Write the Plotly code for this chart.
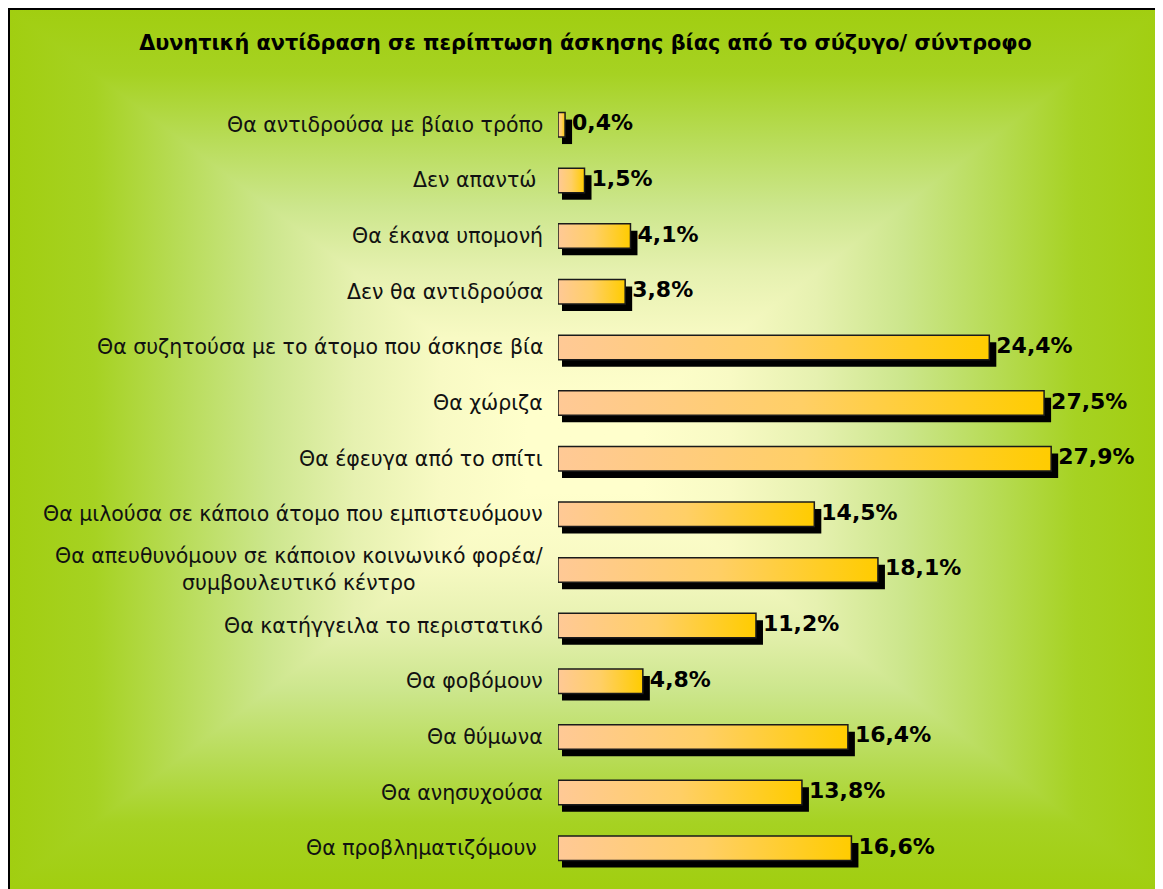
import plotly.graph_objects as go
import base64

# ---------------- data ----------------
categories = [
    "Θα αντιδρούσα με βίαιο τρόπο",
    "Δεν απαντώ\u00a0",
    "Θα έκανα υπομονή",
    "Δεν θα αντιδρούσα",
    "Θα συζητούσα με το άτομο που άσκησε βία",
    "Θα χώριζα",
    "Θα έφευγα από το σπίτι",
    "Θα μιλούσα σε κάποιο άτομο που εμπιστευόμουν",
    "Θα απευθυνόμουν σε κάποιον κοινωνικό φορέα/<br>συμβουλευτικό κέντρο",
    "Θα κατήγγειλα το περιστατικό",
    "Θα φοβόμουν",
    "Θα θύμωνα",
    "Θα ανησυχούσα",
    "Θα προβληματιζόμουν\u00a0",
]
values = [0.4, 1.5, 4.1, 3.8, 24.4, 27.5, 27.9, 14.5, 18.1, 11.2, 4.8, 16.4, 13.8, 16.6]
title_text = "Δυνητική αντίδραση σε περίπτωση άσκησης βίας από το σύζυγο/ σύντροφο"

# ---------------- geometry ----------------
W, H = 1155, 881
ML, MR, MT, MB = 550, 4, 89, 13
XMAX = 34.0
pw = W - ML - MR
ph = H - MT - MB
px_per_x = pw / XMAX
px_per_y = ph / len(categories)

bar_h = 0.44
sh_dx0 = 4 / px_per_x
sh_dx1 = 7 / px_per_x
sh_dy = 7 / px_per_y

fig = go.Figure()

idx = list(range(len(categories)))

# shadows
fig.add_trace(go.Bar(
    orientation="h",
    y=[i + sh_dy for i in idx],
    x=[v + sh_dx1 - sh_dx0 for v in values],
    base=[sh_dx0] * len(values),
    width=bar_h,
    marker=dict(color="black", line=dict(width=0)),
    hoverinfo="skip",
    showlegend=False,
))

# main bars with horizontal gradient
for i, v in zip(idx, values):
    y0, y1 = i - bar_h / 2, i + bar_h / 2
    fig.add_trace(go.Scatter(
        x=[0, v, v, 0, 0],
        y=[y0, y0, y1, y1, y0],
        mode="lines",
        fill="toself",
        fillgradient=dict(type="horizontal",
                          colorscale=[[0, "#ffc996"], [0.5, "#ffcf66"], [1, "#ffcc00"]]),
        line=dict(color="#1a1a1a", width=1.5),
        hoverinfo="skip",
        showlegend=False,
    ))

# value labels
fig.add_trace(go.Scatter(
    x=[v + sh_dx1 for v in values],
    y=idx,
    mode="text",
    text=[f"{v:.1f}".replace(".", ",") + "%" for v in values],
    textposition="middle right",
    textfont=dict(family="DejaVu Sans", size=22, color="black", weight="bold"),
    hoverinfo="skip",
    showlegend=False,
    cliponaxis=False,
))

# category labels
for i, c in zip(idx, categories):
    fig.add_annotation(
        xref="paper", yref="y", x=0, y=i,
        xanchor="right", yanchor="middle", xshift=-13,
        text=c, showarrow=False, align="center",
        font=dict(family="DejaVu Sans", size=20.5, color="#111111"),
    )

# background: rectangular "from center" gradient as SVG
cx, cy = W / 2, H / 2
stops = ('<stop offset="0" stop-color="#a1ce10"/>'
         '<stop offset="0.15" stop-color="#a6d222"/>'
         '<stop offset="0.3" stop-color="#b8dc58"/>'
         '<stop offset="0.45" stop-color="#cce68c"/>'
         '<stop offset="0.6" stop-color="#e6f1b0"/>'
         '<stop offset="0.75" stop-color="#f8fac4"/>'
         '<stop offset="0.9" stop-color="#ffffcc"/>'
         '<stop offset="1" stop-color="#ffffcc"/>')
svg = f'''<svg xmlns="http://www.w3.org/2000/svg" width="{W}" height="{H}" viewBox="0 0 {W} {H}">
<defs>
<linearGradient id="gt" gradientUnits="userSpaceOnUse" x1="0" y1="0" x2="0" y2="{cy}">{stops}</linearGradient>
<linearGradient id="gb" gradientUnits="userSpaceOnUse" x1="0" y1="{H}" x2="0" y2="{cy}">{stops}</linearGradient>
<linearGradient id="gl" gradientUnits="userSpaceOnUse" x1="0" y1="0" x2="{cx}" y2="0">{stops}</linearGradient>
<linearGradient id="gr" gradientUnits="userSpaceOnUse" x1="{W}" y1="0" x2="{cx}" y2="0">{stops}</linearGradient>
</defs>
<rect x="0" y="0" width="{W}" height="{H}" fill="#a1ce10"/>
<polygon points="0,0 {W},0 {cx},{cy}" fill="url(#gt)" stroke="url(#gt)" stroke-width="1.5"/>
<polygon points="0,{H} {W},{H} {cx},{cy}" fill="url(#gb)" stroke="url(#gb)" stroke-width="1.5"/>
<polygon points="0,0 0,{H} {cx},{cy}" fill="url(#gl)" stroke="url(#gl)" stroke-width="1.5"/>
<polygon points="{W},0 {W},{H} {cx},{cy}" fill="url(#gr)" stroke="url(#gr)" stroke-width="1.5"/>
</svg>'''
src = "data:image/svg+xml;base64," + base64.b64encode(svg.encode("utf-8")).decode()

fig.add_layout_image(
    source=src, xref="paper", yref="paper",
    x=-ML / pw, y=1 + MT / ph,
    sizex=W / pw, sizey=H / ph,
    xanchor="left", yanchor="top", sizing="stretch", layer="below",
)

# border on left and top
fig.add_shape(type="line", xref="paper", yref="paper",
              x0=(1 - ML) / pw, x1=(1 - ML) / pw, y0=-MB / ph, y1=1 + MT / ph,
              line=dict(color="black", width=2))
fig.add_shape(type="line", xref="paper", yref="paper",
              x0=-ML / pw, x1=1 + MR / pw, y0=1 + (MT - 1) / ph, y1=1 + (MT - 1) / ph,
              line=dict(color="black", width=2))

fig.update_layout(
    width=W, height=H,
    margin=dict(l=ML, r=MR, t=MT, b=MB, pad=0),
    paper_bgcolor="#a1ce10",
    plot_bgcolor="rgba(0,0,0,0)",
    title=dict(text=f"<b>{title_text}</b>", x=0.5, xref="container", xanchor="center",
               y=1 - 35 / H, yref="container", yanchor="middle",
               font=dict(family="DejaVu Sans", size=20.8, color="black")),
    xaxis=dict(range=[0, XMAX], visible=False, fixedrange=True),
    yaxis=dict(range=[len(categories) - 0.5, -0.5], visible=False, fixedrange=True),
    barmode="overlay",
    showlegend=False,
)

fig.write_html("out.html", post_script="document.body.style.overflow='hidden';")
